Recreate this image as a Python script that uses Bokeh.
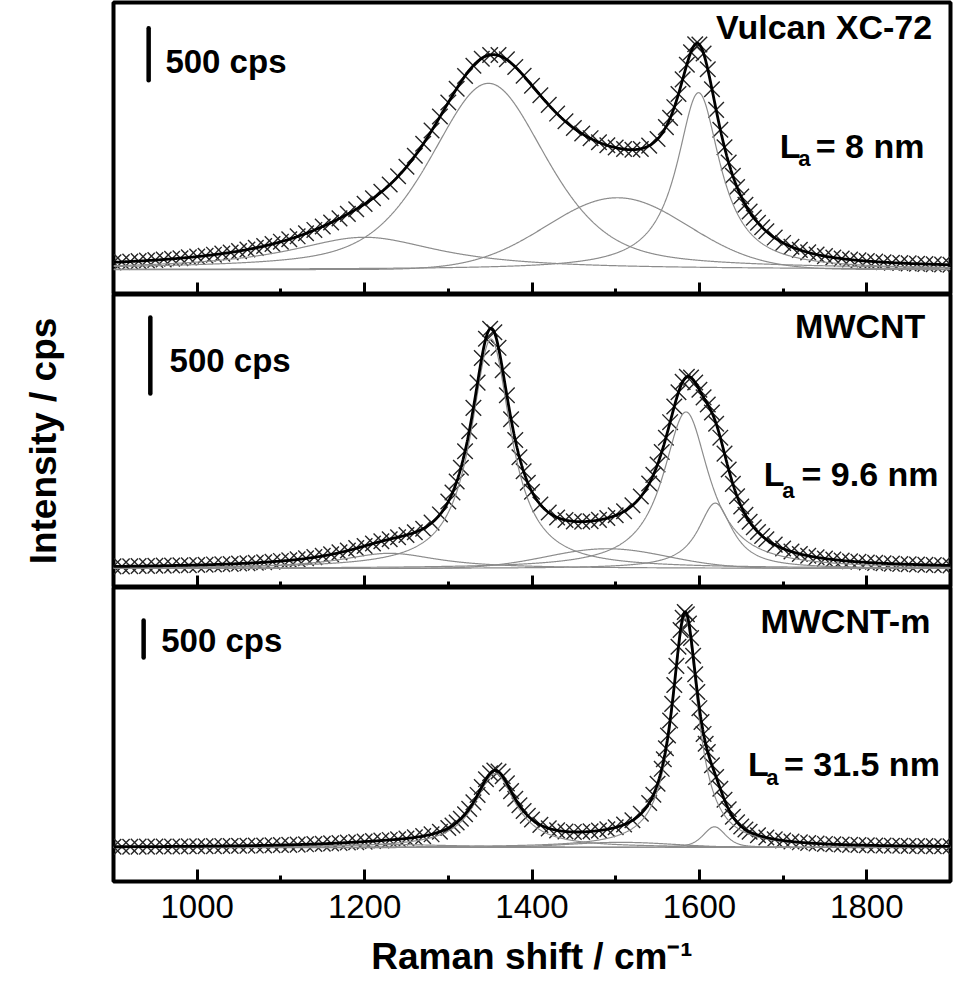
import numpy as np
from bokeh.plotting import figure
from bokeh.layouts import column
from bokeh.models import Range1d, FixedTicker, Label, LinearAxis
from bokeh.embed import file_html
from bokeh.resources import INLINE

# ---------------------------------------------------------------- shared
X_START, X_END = 900, 1900
X_MAJOR_TICKS = [1000, 1200, 1400, 1600, 1800]
X_MINOR_TICKS = [1100, 1300, 1500, 1700]
X_TITLE = "Raman shift / cm\u207b\u00b9"
Y_TITLE = "Intensity / cps"
SCALE_BAR_CPS = 500
SCALE_BAR_TEXT = "500 cps"
SAMPLE_NAMES = ["Vulcan XC-72", "MWCNT", "MWCNT-m"]
LA_TEXT = ["= 8 nm", "= 9.6 nm", "= 31.5 nm"]

vulcan_shift = [
    900, 910, 920, 930, 940, 950, 960, 970, 980, 990,
    1000, 1010, 1020, 1030, 1040, 1050, 1060, 1070, 1080, 1090,
    1100, 1110, 1120, 1130, 1140, 1150, 1160, 1170, 1180, 1190,
    1200, 1210, 1220, 1230, 1240, 1250, 1260, 1270, 1280, 1290,
    1300, 1310, 1320, 1330, 1340, 1350, 1360, 1370, 1380, 1390,
    1400, 1410, 1420, 1430, 1440, 1450, 1460, 1470, 1480, 1490,
    1500, 1510, 1520, 1530, 1540, 1550,
    1560, 1565, 1570, 1575, 1580, 1585, 1590, 1595, 1600, 1605,
    1610, 1615, 1620, 1625, 1630, 1635, 1640, 1645, 1650, 1655,
    1660, 1665, 1670, 1675, 1680,
    1690, 1700, 1710, 1720, 1730, 1740, 1750, 1760, 1770, 1780,
    1790, 1800, 1810, 1820, 1830, 1840, 1850, 1860, 1870, 1880,
    1890, 1900,
]
vulcan_intensity = [
    69, 73, 77, 81, 86, 91, 97, 103, 109, 117,
    124, 133, 143, 153, 164, 177, 192, 208, 227, 245,
    268, 292, 319, 348, 381, 414, 453, 492, 535, 580,
    631, 685, 747, 817, 897, 988, 1093, 1210, 1336, 1471,
    1605, 1737, 1860, 1959, 2027, 2063, 2062, 2021, 1947, 1862,
    1767, 1675, 1583, 1499, 1425, 1361, 1307, 1263, 1224, 1195,
    1173, 1158, 1152, 1158, 1191, 1254,
    1369, 1458, 1561, 1687, 1828, 1968, 2088, 2166, 2163, 2077,
    1926, 1733, 1535, 1343, 1175, 1028, 901, 793, 702, 622,
    557, 499, 449, 406, 368,
    307, 256, 219, 189, 165, 145, 129, 116, 105, 96,
    88, 82, 76, 70, 66, 62, 59, 56, 53, 50,
    48, 46,
]
# fitted bands: D4, D1, D3, G
vulcan_center = [1200, 1348, 1502, 1599]
vulcan_fwhm = [220, 165, 200, 63]
vulcan_height = [310, 1790, 690, 1700]
vulcan_lorentz_fraction = [1.0, 0.5, 0.0, 1.0]

# ---------------------------------------------------------------- MWCNT
mwcnt_shift = [
    900, 910, 920, 930, 940, 950, 960, 970, 980, 990,
    1000, 1010, 1020, 1030, 1040, 1050, 1060, 1070, 1080, 1090,
    1100, 1110, 1120, 1130, 1140, 1150, 1160, 1170, 1180, 1190,
    1200, 1210, 1220, 1230, 1240, 1250, 1260, 1270, 1280, 1290,
    1300, 1305, 1310, 1315, 1320, 1325, 1330, 1335, 1340, 1345,
    1350, 1355, 1360, 1365, 1370, 1375, 1380, 1385, 1390, 1395,
    1400,
    1410, 1420, 1430, 1440, 1450, 1460, 1470, 1480, 1490, 1500,
    1510, 1520, 1530, 1540,
    1545, 1550, 1555, 1560, 1565, 1570, 1575, 1580, 1585, 1590,
    1595, 1600, 1605, 1610, 1615, 1620, 1625, 1630, 1635, 1640,
    1645, 1650, 1655, 1660, 1665, 1670, 1675, 1680,
    1690, 1700, 1710, 1720, 1730, 1740, 1750, 1760, 1770, 1780,
    1790, 1800, 1810, 1820, 1830, 1840, 1850, 1860, 1870, 1880,
    1890, 1900,
]
mwcnt_intensity = [
    14, 14, 15, 16, 17, 18, 19, 20, 21, 22,
    23, 25, 27, 28, 30, 33, 35, 38, 41, 45,
    50, 54, 60, 67, 75, 83, 94, 106, 119, 134,
    148, 164, 179, 193, 206, 220, 238, 262, 302, 356,
    441, 500, 573, 663, 772, 904, 1057, 1223, 1385, 1512,
    1578, 1555, 1452, 1304, 1140, 982, 846, 732, 640, 564,
    505,
    421, 368, 336, 319, 310, 308, 311, 320, 332, 350,
    377, 416, 474, 559,
    616, 684, 767, 860, 963, 1066, 1160, 1228, 1262, 1256,
    1224, 1176, 1126, 1079, 1026, 953, 861, 756, 651, 557,
    476, 408, 353, 308, 271, 240, 214, 192,
    157, 132, 112, 96, 84, 74, 65, 59, 53, 48,
    44, 40, 37, 34, 32, 30, 28, 26, 24, 23,
    21, 20,
]
# fitted bands: D4, D1, D3, G, D2
mwcnt_center = [1230, 1351, 1490, 1584, 1619]
mwcnt_fwhm = [143, 58, 170, 67, 50]
mwcnt_height = [100, 1510, 130, 1030, 430]
mwcnt_lorentz_fraction = [1.0, 1.0, 0.0, 1.0, 1.0]

# ---------------------------------------------------------------- MWCNT-m
mwcntm_shift = [
    900, 910, 920, 930, 940, 950, 960, 970, 980, 990,
    1000, 1010, 1020, 1030, 1040, 1050, 1060, 1070, 1080, 1090,
    1100, 1110, 1120, 1130, 1140, 1150, 1160, 1170, 1180, 1190,
    1200, 1210, 1220, 1230, 1240, 1250, 1260, 1270, 1280, 1290,
    1300, 1305, 1310, 1315, 1320, 1325, 1330, 1335, 1340, 1345,
    1350, 1355, 1360, 1365, 1370, 1375, 1380, 1385, 1390, 1395,
    1400,
    1410, 1420, 1430, 1440, 1450, 1460, 1470, 1480, 1490, 1500,
    1510, 1520, 1530, 1540,
    1545, 1550, 1555,
    1557.5, 1560, 1562.5, 1565, 1567.5, 1570, 1572.5, 1575, 1577.5, 1580,
    1582.5, 1585, 1587.5, 1590, 1592.5, 1595, 1597.5, 1600, 1602.5, 1605,
    1607.5, 1610,
    1615, 1620, 1625, 1630, 1635, 1640, 1645, 1650, 1655, 1660,
    1670, 1680, 1690, 1700, 1710, 1720, 1730, 1740, 1750, 1760,
    1770, 1780, 1790, 1800, 1810, 1820, 1830, 1840, 1850, 1860,
    1870, 1880, 1890, 1900,
]
mwcntm_intensity = [
    10, 11, 11, 12, 12, 13, 14, 14, 15, 16,
    17, 18, 19, 20, 21, 23, 25, 26, 28, 31,
    33, 36, 39, 43, 47, 51, 56, 61, 67, 73,
    80, 87, 95, 103, 112, 123, 137, 154, 178, 214,
    265, 298, 338, 388, 449, 522, 610, 711, 818, 922,
    1003, 1041, 1026, 962, 867, 762, 660, 570, 493, 430,
    379,
    306, 259, 232, 216, 211, 211, 219, 230, 248, 274,
    312, 369, 456, 602,
    713, 861, 1063,
    1192, 1340, 1514, 1715, 1941, 2195, 2454, 2712, 2939, 3105,
    3182, 3152, 3026, 2830, 2591, 2340, 2100, 1883, 1696, 1535,
    1403, 1291,
    1112, 954, 794, 645, 518, 417, 341, 285, 244, 213,
    167, 135, 112, 95, 81, 70, 61, 55, 49, 44,
    40, 36, 33, 30, 28, 26, 24, 23, 21, 20,
    19, 18, 17, 16,
]
# fitted bands: D4, D1, D3, G, D2
mwcntm_center = [1230, 1356, 1506, 1583, 1618]
mwcntm_fwhm = [200, 60, 150, 38, 32]
mwcntm_height = [40, 1000, 70, 3100, 280]
mwcntm_lorentz_fraction = [1.0, 1.0, 0.0, 1.0, 0.5]

# ---------------------------------------------------------------- layout / style (not data)
FONT = "Liberation Sans"
FRAME_W = 837
BORDER_L, BORDER_R = 113, 24
MARKER_COLOR = "#262626"
BAND_COLOR = "#8c8c8c"

PANELS = [
    dict(shift=vulcan_shift, inten=vulcan_intensity, c=vulcan_center, w=vulcan_fwhm,
         h=vulcan_height, eta=vulcan_lorentz_fraction, frame_h=292, top=2,
         y=(-240, 2567), bar=(942, 1820), bar_txt=(962, 2000),
         name=(1878, 2336), la=(1696, 1192), sub=(1718, 1066), eq=(1739, 1192)),
    dict(shift=mwcnt_shift, inten=mwcnt_intensity, c=mwcnt_center, w=mwcnt_fwhm,
         h=mwcnt_height, eta=mwcnt_lorentz_fraction, frame_h=293, top=0,
         y=(-125, 1803), bar=(944, 1151), bar_txt=(967, 1369),
         name=(1870, 1598), la=(1677, 625), sub=(1699, 512), eq=(1722, 625)),
    dict(shift=mwcntm_shift, inten=mwcntm_intensity, c=mwcntm_center, w=mwcntm_fwhm,
         h=mwcntm_height, eta=mwcntm_lorentz_fraction, frame_h=294, top=0,
         y=(-459, 3513), bar=(936, 2567), bar_txt=(957, 2796),
         name=(1876, 3067), la=(1658, 1135), sub=(1680, 946), eq=(1701, 1135)),
]


def band(x, center, fwhm, height, eta):
    d = (x - center) / fwhm
    lor = 1.0 / (1.0 + 4.0 * d ** 2)
    gau = np.exp(-4.0 * np.log(2.0) * d ** 2)
    return height * (eta * lor + (1.0 - eta) * gau)


def make_label(x, y, text, size, align="left"):
    return Label(x=x, y=y, text=text, text_font=FONT, text_font_size=size,
                 text_font_style="bold", text_color="black",
                 text_baseline="alphabetic", text_align=align)


def style_tick_axis(ax, major, minor, major_len, minor_len):
    ax.ticker = FixedTicker(ticks=major, minor_ticks=minor)
    ax.axis_line_color = None
    ax.major_tick_in = major_len
    ax.major_tick_out = 0
    ax.minor_tick_in = minor_len
    ax.minor_tick_out = 0
    ax.major_tick_line_width = 3
    ax.minor_tick_line_width = 3
    ax.major_tick_line_color = "black"
    ax.minor_tick_line_color = "black"
    ax.major_label_standoff = 0
    ax.axis_label_standoff = 0


grid = np.arange(X_START, X_END + 0.25, 0.5)
figs = []
for i, P in enumerate(PANELS):
    last = i == len(PANELS) - 1
    p = figure(frame_width=FRAME_W, frame_height=P["frame_h"],
               x_range=Range1d(X_START, X_END), y_range=Range1d(*P["y"]),
               output_backend="svg", toolbar_location=None,
               y_axis_location="left" if i == 1 else None,
               min_border_left=BORDER_L, min_border_right=BORDER_R,
               min_border_top=P["top"], min_border_bottom=0)
    p.background_fill_color = "white"
    p.border_fill_color = "white"
    p.outline_line_color = "black"
    p.outline_line_width = 4
    p.xgrid.visible = False
    p.ygrid.visible = False

    ax = p.xaxis[0]
    if last:
        style_tick_axis(ax, X_MAJOR_TICKS, X_MINOR_TICKS, 12, 6)
        ax.major_label_text_font = FONT
        ax.major_label_text_font_size = "33px"
        ax.major_label_text_color = "black"
        ax.major_label_standoff = 13
        ax.axis_label = X_TITLE
        ax.axis_label_text_font = FONT
        ax.axis_label_text_font_size = "37px"
        ax.axis_label_text_font_style = "bold"
        ax.axis_label_text_color = "black"
        ax.axis_label_standoff = 15
    else:
        # tick marks only (no tick labels): long marks at the major positions,
        # short marks at the minor positions
        style_tick_axis(ax, [], X_MAJOR_TICKS, 12, 12)
        ax2 = LinearAxis()
        style_tick_axis(ax2, [], X_MINOR_TICKS, 6, 6)
        p.add_layout(ax2, "below")

    if i == 1:
        yax = p.yaxis[0]
        yax.ticker = FixedTicker(ticks=[], minor_ticks=[])
        yax.axis_line_color = None
        yax.major_tick_line_color = None
        yax.minor_tick_line_color = None
        yax.major_label_standoff = 0
        yax.axis_label = Y_TITLE
        yax.axis_label_text_font = FONT
        yax.axis_label_text_font_size = "37px"
        yax.axis_label_text_font_style = "bold"
        yax.axis_label_text_color = "black"
        yax.axis_label_standoff = 50

    # measured points
    p.scatter(P["shift"], P["inten"], marker="x", size=22,
              line_color=MARKER_COLOR, line_width=1.4)
    # fitted bands
    total = np.zeros_like(grid)
    for c, w, h, e in zip(P["c"], P["w"], P["h"], P["eta"]):
        comp = band(grid, c, w, h, e)
        total += comp
        p.line(grid, comp, line_color=BAND_COLOR, line_width=1.2)
    p.line(grid, total, line_color="black", line_width=2.8)

    # scale bar
    bx, by = P["bar"]
    p.segment(x0=[bx], y0=[by], x1=[bx], y1=[by + SCALE_BAR_CPS],
              line_color="black", line_width=4.5, line_cap="round")
    p.add_layout(make_label(P["bar_txt"][0], P["bar_txt"][1], SCALE_BAR_TEXT, "33px"))
    # sample name
    p.add_layout(make_label(P["name"][0], P["name"][1], SAMPLE_NAMES[i], "34px", "right"))
    # L_a
    p.add_layout(make_label(P["la"][0], P["la"][1], "L", "34px"))
    p.add_layout(make_label(P["sub"][0], P["sub"][1], "a", "22px"))
    p.add_layout(make_label(P["eq"][0], P["eq"][1], LA_TEXT[i], "34px"))
    figs.append(p)

layout = column(*figs, spacing=0)
open("out.html", "w").write(file_html(layout, INLINE, title="Raman spectra"))
